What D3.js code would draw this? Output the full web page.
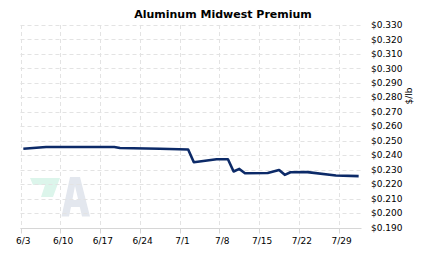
<!DOCTYPE html>
<html>
<head>
<meta charset="utf-8">
<script src="https://cdn.jsdelivr.net/npm/d3@7"></script>
<style>
html,body{margin:0;padding:0;background:#fff;}
svg{display:block;}
</style>
</head>
<body>
<svg id="chart" width="423" height="257"></svg>
<script>
const title = "Aluminum Midwest Premium";
const unitLabel = "$/lb";
const year = 2024;
const dates = ["6/3","6/7","6/19","6/20","6/27","7/2","7/3","7/7","7/9","7/10","7/11","7/12","7/16","7/18","7/19","7/20","7/23","7/28","8/1"];
const values = [0.2444,0.2457,0.2457,0.2450,0.2444,0.2439,0.2351,0.2372,0.2372,0.2287,0.2305,0.2275,0.2277,0.2298,0.2264,0.2282,0.2283,0.2259,0.2255];
const xTickLabels = ["6/3","6/10","6/17","6/24","7/1","7/8","7/15","7/22","7/29"];
const yTicks = [0.19,0.20,0.21,0.22,0.23,0.24,0.25,0.26,0.27,0.28,0.29,0.30,0.31,0.32,0.33];
const xDomain = ["6/3","8/2"];

const parse = (s, h) => { const [m,d] = s.split("/").map(Number); return new Date(year, m-1, d, h||0); };

const svg = d3.select("#chart");
const x = d3.scaleTime().domain(xDomain.map(s=>parse(s))).range([20.5, 361.5]);
const y = d3.scaleLinear().domain([0.19, 0.33]).range([227.5, 25]);

// watermark
const wm = svg.append("g");
wm.append("path").attr("d","M30,178L60,178L53,197L41,197L45,185L33,185Z").attr("fill","#dcf5eb");
wm.append("path").attr("fill-rule","evenodd").attr("fill","#e3e7ee")
  .attr("d","M70,177L80,177L90,216.5L82,216.5L79.8,207L71,207L69,216.5L61.5,216.5Z M75,186L78.3,200L72.3,200Z");

// grid
const grid = svg.append("g");
grid.selectAll("line.h").data(yTicks).join("line")
  .attr("x1", 20.5).attr("x2", 360.5)
  .attr("y1", d=>Math.round(y(d))+0.5).attr("y2", d=>Math.round(y(d))+0.5)
  .attr("stroke","#e3e3e3").attr("stroke-dasharray","4,3");
grid.selectAll("line.v").data(xTickLabels).join("line")
  .attr("x1", d=>Math.round(x(parse(d)))+0.5).attr("x2", d=>Math.round(x(parse(d)))+0.5)
  .attr("y1", y(0.33)).attr("y2", y(0.19))
  .attr("stroke","#e3e3e3").attr("stroke-dasharray","4,3");

// x axis
const xa = svg.append("g").attr("transform", `translate(0,${Math.round(y(0.19))+0.5})`);
xa.append("line").attr("x1",20.5).attr("x2",361.5).attr("stroke","#d6d6d6");
xa.selectAll("line.t").data(xTickLabels).join("line")
  .attr("x1", d=>Math.round(x(parse(d)))+0.5).attr("x2", d=>Math.round(x(parse(d)))+0.5)
  .attr("y1",0).attr("y2",5).attr("stroke","#d6d6d6");
xa.selectAll("text").data(xTickLabels).join("text")
  .attr("x", d=>x(parse(d, 12))).attr("y", 15.5)
  .attr("text-anchor","middle")
  .attr("font-family","DejaVu Sans").attr("font-size","9px").attr("fill","#000")
  .text(d=>d);

// y axis labels
const fmt = d3.format(".3f");
svg.append("g").selectAll("text").data(yTicks).join("text")
  .attr("x", 371).attr("y", d=>y(d)).attr("dy","0.35em")
  .attr("font-family","DejaVu Sans").attr("font-size","9px").attr("fill","#000")
  .text(d=>"$"+fmt(d));

svg.append("text").attr("transform","translate(412,96) rotate(-90)")
  .attr("text-anchor","middle")
  .attr("font-family","DejaVu Sans").attr("font-size","9px").attr("fill","#000")
  .text(unitLabel);

// title
svg.append("text").attr("x", 223).attr("y", 18).attr("text-anchor","middle")
  .attr("font-family","DejaVu Sans").attr("font-weight","bold").attr("font-size","11px").attr("fill","#000")
  .text(title);

// line
const data = dates.map((d,i)=>({date: parse(d,12), value: values[i]}));
svg.append("path").datum(data)
  .attr("fill","none").attr("stroke","#0c2a68").attr("stroke-width",2.6)
  .attr("stroke-linejoin","round")
  .attr("d", d3.line().x(d=>x(d.date)).y(d=>y(d.value)));
</script>
</body>
</html>
